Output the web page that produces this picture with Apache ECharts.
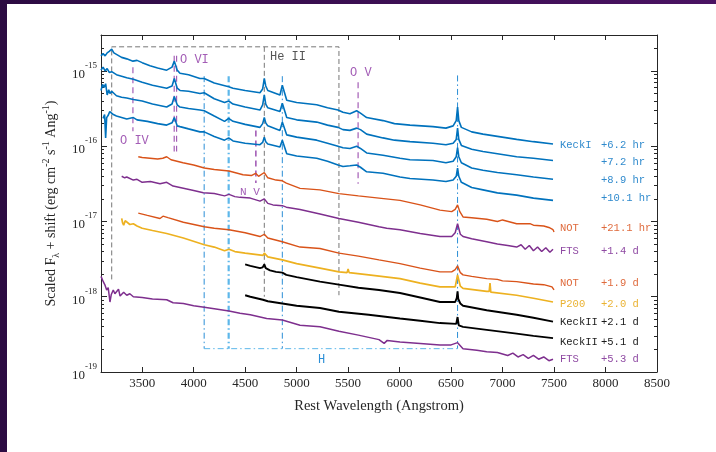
<!DOCTYPE html>
<html lang="en">
<head>
<meta charset="UTF-8">
<title>Spectra</title>
<script src="https://cdn.jsdelivr.net/npm/echarts@6.0.0/dist/echarts.min.js"></script>
<style>
html, body { margin: 0; padding: 0; width: 716px; height: 452px; overflow: hidden;
  background: linear-gradient(90deg, #2c0b42, #4a1262); }
#panel { position: absolute; left: 7px; top: 4px; right: 0; bottom: 0; background: #fff; }
#chart { position: absolute; left: 0; top: 0; width: 716px; height: 452px; }
</style>
</head>
<body>
<div id="panel"></div>
<div id="chart"></div>
<script>
// spectra: [rest wavelength (A), log10 scaled flux + shift]
var keckI_62hr = [[3100,-14.80],[3120,-14.77],[3140,-14.80],[3160,-14.76],[3180,-14.74],[3204,-14.71],[3225,-14.76],[3250,-14.78],[3300,-14.82],[3350,-14.84],[3410,-14.87],[3450,-14.86],[3500,-14.89],[3576,-14.93],[3650,-14.96],[3738,-14.99],[3790,-14.95],[3812,-14.87],[3840,-14.99],[3867,-15.03],[3950,-15.05],[4061,-15.10],[4102,-15.10],[4200,-15.16],[4340,-15.21],[4382,-15.23],[4500,-15.26],[4644,-15.29],[4670,-15.24],[4686,-15.10],[4700,-15.20],[4720,-15.26],[4838,-15.32],[4861,-15.19],[4904,-15.39],[5000,-15.42],[5195,-15.45],[5300,-15.49],[5402,-15.52],[5411,-15.50],[5450,-15.55],[5518,-15.57],[5583,-15.53],[5620,-15.56],[5680,-15.62],[5839,-15.66],[5950,-15.70],[6101,-15.72],[6324,-15.74],[6450,-15.76],[6520,-15.73],[6550,-15.66],[6563,-15.48],[6575,-15.66],[6600,-15.75],[6700,-15.81],[6810,-15.84],[6950,-15.87],[7137,-15.91],[7300,-15.94],[7490,-15.97]];
var keckI_72hr = [[3100,-14.99],[3120,-14.95],[3140,-15.00],[3160,-14.97],[3180,-15.02],[3204,-15.01],[3250,-15.05],[3300,-15.07],[3350,-15.09],[3414,-15.11],[3500,-15.15],[3600,-15.19],[3738,-15.23],[3790,-15.20],[3812,-15.10],[3840,-15.23],[3867,-15.26],[3950,-15.27],[4061,-15.30],[4102,-15.29],[4200,-15.37],[4300,-15.42],[4340,-15.40],[4382,-15.44],[4500,-15.48],[4644,-15.52],[4670,-15.45],[4686,-15.32],[4700,-15.44],[4720,-15.49],[4838,-15.54],[4861,-15.43],[4904,-15.62],[5000,-15.65],[5195,-15.68],[5300,-15.72],[5402,-15.75],[5411,-15.73],[5450,-15.78],[5518,-15.79],[5583,-15.76],[5620,-15.78],[5680,-15.84],[5839,-15.89],[5950,-15.92],[6101,-15.94],[6324,-15.96],[6450,-15.98],[6520,-15.96],[6550,-15.91],[6563,-15.76],[6575,-15.91],[6600,-15.99],[6700,-16.04],[6810,-16.07],[6950,-16.10],[7137,-16.14],[7300,-16.16],[7490,-16.19]];
var keckI_89hr = [[3100,-15.26],[3115,-15.18],[3130,-15.22],[3145,-15.17],[3160,-15.32],[3175,-15.25],[3187,-15.30],[3204,-15.27],[3250,-15.33],[3300,-15.35],[3350,-15.36],[3414,-15.38],[3500,-15.40],[3600,-15.44],[3738,-15.48],[3790,-15.44],[3812,-15.34],[3840,-15.45],[3867,-15.48],[3950,-15.50],[4061,-15.52],[4102,-15.53],[4200,-15.60],[4300,-15.67],[4340,-15.63],[4382,-15.67],[4500,-15.71],[4644,-15.75],[4670,-15.70],[4686,-15.62],[4700,-15.69],[4720,-15.73],[4838,-15.79],[4861,-15.68],[4904,-15.85],[5000,-15.88],[5195,-15.92],[5300,-15.96],[5402,-16.00],[5411,-15.98],[5450,-16.02],[5518,-16.03],[5583,-16.00],[5620,-16.03],[5680,-16.09],[5839,-16.12],[6004,-16.16],[6101,-16.18],[6324,-16.19],[6450,-16.22],[6520,-16.20],[6550,-16.14],[6563,-16.02],[6575,-16.14],[6600,-16.22],[6700,-16.29],[6810,-16.32],[6950,-16.35],[7137,-16.38],[7300,-16.41],[7490,-16.44]];
var keckI_101hr = [[3120,-15.63],[3135,-15.58],[3145,-15.89],[3155,-15.62],[3170,-15.59],[3185,-15.54],[3200,-15.56],[3220,-15.58],[3250,-15.60],[3300,-15.62],[3350,-15.64],[3414,-15.62],[3450,-15.65],[3550,-15.67],[3650,-15.70],[3738,-15.72],[3790,-15.69],[3812,-15.62],[3840,-15.73],[3867,-15.74],[3950,-15.77],[4061,-15.81],[4102,-15.81],[4200,-15.87],[4300,-15.92],[4340,-15.89],[4382,-15.93],[4500,-15.96],[4644,-15.98],[4670,-15.95],[4686,-15.88],[4700,-15.94],[4720,-15.97],[4838,-16.01],[4861,-15.92],[4904,-16.10],[5000,-16.13],[5195,-16.16],[5300,-16.20],[5402,-16.25],[5411,-16.23],[5450,-16.27],[5518,-16.26],[5583,-16.25],[5620,-16.28],[5680,-16.34],[5839,-16.36],[6004,-16.41],[6101,-16.43],[6324,-16.45],[6450,-16.47],[6520,-16.45],[6550,-16.40],[6563,-16.29],[6575,-16.40],[6600,-16.48],[6700,-16.55],[6810,-16.58],[6950,-16.62],[7137,-16.65],[7300,-16.69],[7490,-16.72]];
var not_211hr = [[3462,-16.14],[3500,-16.15],[3576,-16.16],[3650,-16.17],[3700,-16.16],[3738,-16.14],[3780,-16.18],[3896,-16.22],[4000,-16.25],[4103,-16.29],[4200,-16.31],[4343,-16.33],[4479,-16.38],[4560,-16.39],[4602,-16.36],[4630,-16.40],[4686,-16.35],[4720,-16.42],[4800,-16.45],[4861,-16.46],[4900,-16.49],[5033,-16.56],[5227,-16.58],[5411,-16.63],[5600,-16.66],[5800,-16.69],[6004,-16.72],[6200,-16.78],[6392,-16.85],[6506,-16.87],[6540,-16.84],[6563,-16.78],[6585,-16.87],[6616,-16.94],[6700,-16.95],[6846,-16.97],[6950,-17.00],[7000,-16.98],[7137,-17.03],[7266,-17.03],[7300,-17.05],[7400,-17.06],[7450,-17.08],[7490,-17.11],[7500,-17.14]];
var fts_14d = [[3301,-16.40],[3330,-16.42],[3350,-16.41],[3414,-16.45],[3450,-16.44],[3500,-16.48],[3580,-16.47],[3673,-16.50],[3738,-16.48],[3800,-16.53],[3900,-16.56],[4000,-16.59],[4094,-16.62],[4200,-16.63],[4300,-16.66],[4343,-16.64],[4400,-16.67],[4450,-16.68],[4550,-16.69],[4644,-16.73],[4686,-16.70],[4720,-16.76],[4770,-16.78],[4861,-16.79],[4900,-16.81],[5033,-16.84],[5227,-16.90],[5411,-16.96],[5600,-17.01],[5800,-17.07],[5875,-17.09],[6004,-17.11],[6200,-17.16],[6392,-17.20],[6506,-17.20],[6540,-17.15],[6563,-17.03],[6590,-17.17],[6616,-17.20],[6700,-17.23],[6846,-17.27],[6950,-17.30],[7050,-17.32],[7137,-17.34],[7180,-17.31],[7220,-17.37],[7260,-17.32],[7300,-17.39],[7340,-17.34],[7380,-17.40],[7420,-17.35],[7460,-17.41],[7490,-17.37]];
var not_19d = [[3462,-16.89],[3550,-16.92],[3673,-16.96],[3702,-16.93],[3750,-16.95],[3900,-17.01],[4103,-17.07],[4200,-17.09],[4343,-17.11],[4500,-17.15],[4644,-17.20],[4686,-17.17],[4720,-17.22],[4861,-17.27],[5033,-17.34],[5227,-17.36],[5411,-17.42],[5600,-17.46],[5800,-17.51],[6004,-17.56],[6200,-17.62],[6392,-17.67],[6506,-17.67],[6540,-17.64],[6563,-17.59],[6590,-17.68],[6616,-17.71],[6700,-17.73],[6846,-17.76],[6950,-17.77],[7000,-17.79],[7137,-17.80],[7300,-17.83],[7400,-17.84],[7480,-17.87],[7500,-17.91]];
var p200_20d = [[3301,-16.96],[3310,-17.02],[3320,-17.05],[3335,-16.99],[3350,-17.00],[3380,-17.04],[3414,-17.03],[3450,-17.06],[3500,-17.09],[3600,-17.12],[3738,-17.16],[3900,-17.22],[4103,-17.31],[4200,-17.34],[4300,-17.39],[4343,-17.37],[4400,-17.40],[4500,-17.42],[4673,-17.45],[4686,-17.42],[4720,-17.47],[4861,-17.51],[5000,-17.56],[5227,-17.62],[5411,-17.67],[5490,-17.68],[5500,-17.63],[5510,-17.68],[5700,-17.71],[6004,-17.76],[6200,-17.82],[6392,-17.87],[6540,-17.87],[6563,-17.71],[6590,-17.86],[6616,-17.89],[6846,-17.93],[6870,-17.93],[6878,-17.82],[6886,-17.94],[7137,-17.98],[7300,-18.02],[7490,-18.07]];
var keckII_21d = [[4500,-17.57],[4550,-17.59],[4644,-17.62],[4670,-17.61],[4686,-17.57],[4700,-17.62],[4741,-17.65],[4800,-17.67],[4861,-17.68],[4900,-17.71],[5000,-17.74],[5227,-17.80],[5411,-17.84],[5600,-17.88],[5800,-17.91],[6004,-17.95],[6200,-18.01],[6392,-18.07],[6540,-18.07],[6555,-18.02],[6563,-17.93],[6570,-18.03],[6590,-18.09],[6616,-18.12],[6846,-18.18],[7137,-18.24],[7300,-18.28],[7490,-18.33]];
var keckII_51d = [[4500,-17.98],[4550,-18.00],[4673,-18.04],[4686,-18.03],[4720,-18.06],[4861,-18.09],[5000,-18.12],[5227,-18.15],[5411,-18.20],[5700,-18.24],[6004,-18.29],[6200,-18.32],[6392,-18.35],[6550,-18.36],[6563,-18.27],[6575,-18.38],[6616,-18.40],[6846,-18.44],[7137,-18.49],[7300,-18.52],[7490,-18.55]];
var fts_53d = [[3100,-17.73],[3122,-17.80],[3140,-17.85],[3155,-17.91],[3170,-17.88],[3187,-18.07],[3200,-17.97],[3219,-17.91],[3235,-17.96],[3252,-17.95],[3270,-17.90],[3285,-17.99],[3320,-17.94],[3350,-17.98],[3380,-17.96],[3414,-18.00],[3500,-18.01],[3600,-18.03],[3738,-18.04],[3800,-18.08],[3900,-18.09],[4000,-18.12],[4103,-18.14],[4200,-18.16],[4343,-18.19],[4450,-18.22],[4550,-18.24],[4709,-18.29],[4861,-18.31],[5033,-18.38],[5227,-18.40],[5411,-18.46],[5600,-18.51],[5800,-18.57],[5850,-18.62],[5880,-18.58],[6004,-18.60],[6200,-18.62],[6392,-18.64],[6500,-18.64],[6563,-18.61],[6616,-18.69],[6750,-18.71],[6846,-18.73],[6950,-18.74],[7050,-18.78],[7100,-18.75],[7150,-18.80],[7200,-18.77],[7250,-18.82],[7300,-18.78],[7350,-18.83],[7400,-18.80],[7450,-18.85],[7490,-18.83]];

var spectra = [keckI_62hr, keckI_72hr, keckI_89hr, keckI_101hr, not_211hr, fts_14d, not_19d, p200_20d, keckII_21d, keckII_51d, fts_53d];
var instruments = ['KeckI', '', '', '', 'NOT', 'FTS', 'NOT', 'P200', 'KeckII', 'KeckII', 'FTS'];
var epochs = ['+6.2 hr', '+7.2 hr', '+8.9 hr', '+10.1 hr', '+21.1 hr', '+1.4 d', '+1.9 d', '+2.0 d', '+2.1 d', '+5.1 d', '+5.3 d'];

// line identifications (A)
var oIV = [3410], oVI = [3811, 3834], nV = [4604], oV = [5597];
var heII = [4686, 5411], heIIBoxLeft = 3204;
var hLines = [4102, 4340, 4861, 6563];
var xTicks = [3500, 4000, 4500, 5000, 5500, 6000, 6500, 7000, 7500, 8000, 8500];
var yExps = [-19, -18, -17, -16, -15];

var yMax = Math.log10(3e-15);
var yMinor = [];
yExps.forEach(function (n) {
  for (var k = 2; k <= 9; k++) {
    var v = n + Math.log10(k);
    if (v <= yMax + 1e-9) yMinor.push(v);
  }
});

var colKeckI = '#0072BD', colNOT = '#D95319', colFTS = '#7E2F8E', colP200 = '#EDB120', colKeckII = '#000000';
var specColors = [colKeckI, colKeckI, colKeckI, colKeckI, colNOT, colFTS, colNOT, colP200, colKeckII, colKeckII, colFTS];
var specWidths = [1.6, 1.6, 1.6, 1.6, 1.4, 1.5, 1.4, 1.7, 1.9, 1.9, 1.5];
var labelColors = ['#2f8acd', '#2f8acd', '#2f8acd', '#2f8acd', '#df6a3c', '#8f4aa3', '#df6a3c', '#eab232', '#1a1a1a', '#1a1a1a', '#8f4aa3'];
var labelY = [145.5, 162.5, 180.5, 198.5, 228.5, 251.5, 283.5, 304, 322.5, 342, 359.5];

var axisCol = '#262626';
var serif = '"Liberation Serif", "DejaVu Serif", serif';
var mono = '"Liberation Mono", "DejaVu Sans Mono", monospace';
var purple = '#a35db6', grey = '#777777', hBlue = '#2a8ed6';
var dashDot = [6, 3, 1.5, 3];

function vline(x, y0, y1, color, type, width) {
  return { type: 'line', data: [[x, y0], [x, y1]], symbol: 'none', silent: true, z: 1,
    lineStyle: { color: color, type: type, width: width || 1 } };
}

var series = [];
// He II box and line
series.push({ type: 'line', symbol: 'none', silent: true, z: 1,
  data: [[heIIBoxLeft, -17.77], [heIIBoxLeft, -14.68], [heII[1], -14.68], [heII[1], -17.98]],
  lineStyle: { color: grey, type: [5, 3], width: 1 } });
series.push(vline(heII[0], -14.68, -18.00, grey, [5, 3]));
// oxygen / nitrogen
series.push(vline(oIV[0], -14.95, -15.80, purple, [6, 4], 1.2));
series.push(vline(oVI[0], -14.80, -16.07, purple, [6, 4], 1.2));
series.push(vline(oVI[1], -14.80, -16.07, purple, [6, 4], 1.2));
series.push(vline(nV[0], -15.79, -16.49, purple, [6, 4], 1.6));
series.push(vline(oV[0], -15.15, -16.50, purple, [6, 4], 1.2));
// hydrogen
series.push(vline(hLines[0], -15.07, -18.69, hBlue, dashDot));
series.push(vline(hLines[1], -15.07, -18.69, '#5db7ea', dashDot, 2.2));
series.push(vline(hLines[2], -15.07, -18.69, hBlue, dashDot));
series.push(vline(hLines[3], -15.06, -18.69, hBlue, dashDot));
series.push({ type: 'line', symbol: 'none', silent: true, z: 1,
  data: [[hLines[0], -18.69], [hLines[3], -18.69]],
  lineStyle: { color: '#5db7ea', type: dashDot, width: 1 } });

spectra.forEach(function (s, i) {
  series.push({ type: 'line', data: s, symbol: 'none', silent: true, z: 3,
    lineStyle: { color: specColors[i], width: specWidths[i] } });
});

var graphics = [];
function txt(x, y, s, color, size) {
  graphics.push({ type: 'text', x: x, y: y, silent: true, z: 10,
    style: { text: s, fill: color, font: (size || 10.5) + 'px ' + mono, align: 'left', verticalAlign: 'middle' } });
}
instruments.forEach(function (name, i) {
  if (name) txt(560, labelY[i], name, labelColors[i]);
  txt(601, labelY[i], epochs[i], labelColors[i]);
});
txt(270, 57, 'He II', '#555555', 12);
txt(180, 60, 'O VI', purple, 12);
txt(120, 141, 'O IV', purple, 12);
txt(240, 192, 'N V', purple, 11);
txt(350, 73, 'O V', purple, 12);
txt(318, 360, 'H', hBlue, 12);

function xAx(pos, labels) {
  return { type: 'value', min: 3100, max: 8500, position: pos,
    axisLine: { show: true, onZero: false, lineStyle: { color: axisCol, width: 1 } },
    axisTick: { show: true, inside: true, length: 5, customValues: xTicks, lineStyle: { color: axisCol } },
    axisLabel: { show: labels, customValues: xTicks, fontFamily: serif, fontSize: 13, color: axisCol, margin: 5,
      formatter: function (v) { return String(v); } },
    splitLine: { show: false },
    name: labels ? 'Rest Wavelength (Angstrom)' : '', nameLocation: 'middle', nameGap: 27,
    nameTextStyle: { fontFamily: serif, fontSize: 14.5, color: axisCol } };
}
function yAx(pos, ticks, len, labels, line) {
  var a = { type: 'value', min: -19, max: yMax, position: pos, offset: 0,
    axisLine: { show: line, onZero: false, lineStyle: { color: axisCol, width: 1 } },
    axisTick: { show: true, inside: true, length: len, customValues: ticks, lineStyle: { color: axisCol } },
    axisLabel: { show: labels, customValues: ticks, margin: 4,
      formatter: function (v) { return '{b|10}{s|' + Math.round(v) + '}'; },
      rich: { b: { fontFamily: serif, fontSize: 13, color: axisCol, lineHeight: 20, verticalAlign: 'bottom' },
              s: { fontFamily: serif, fontSize: 9, color: axisCol, lineHeight: 20, verticalAlign: 'top' } } },
    splitLine: { show: false } };
  if (labels) {
    a.name = '{a|Scaled F}{sub|λ}{a| + shift (erg cm}{sup|-2}{a| s}{sup|-1}{a| Ang}{sup|-1}{a|)}';
    a.nameLocation = 'middle';
    a.nameGap = 40;
    a.nameRotate = 90;
    a.nameTextStyle = { rich: {
      a: { fontFamily: serif, fontSize: 14, color: axisCol, lineHeight: 20, verticalAlign: 'middle' },
      sub: { fontFamily: serif, fontSize: 10, color: axisCol, lineHeight: 20, verticalAlign: 'bottom' },
      sup: { fontFamily: serif, fontSize: 10, color: axisCol, lineHeight: 20, verticalAlign: 'top' } } };
  }
  return a;
}

var chart = echarts.init(document.getElementById('chart'), null, { renderer: 'canvas' });
chart.setOption({
  animation: false,
  backgroundColor: 'transparent',
  grid: { left: 101, right: 59, top: 35, bottom: 80, show: false },
  xAxis: [xAx('bottom', true), xAx('top', false)],
  yAxis: [yAx('left', yExps, 6, true, true), yAx('left', yMinor, 3, false, false),
          yAx('right', yExps, 6, false, true), yAx('right', yMinor, 3, false, false)],
  series: series,
  graphic: graphics
});
</script>
</body>
</html>
